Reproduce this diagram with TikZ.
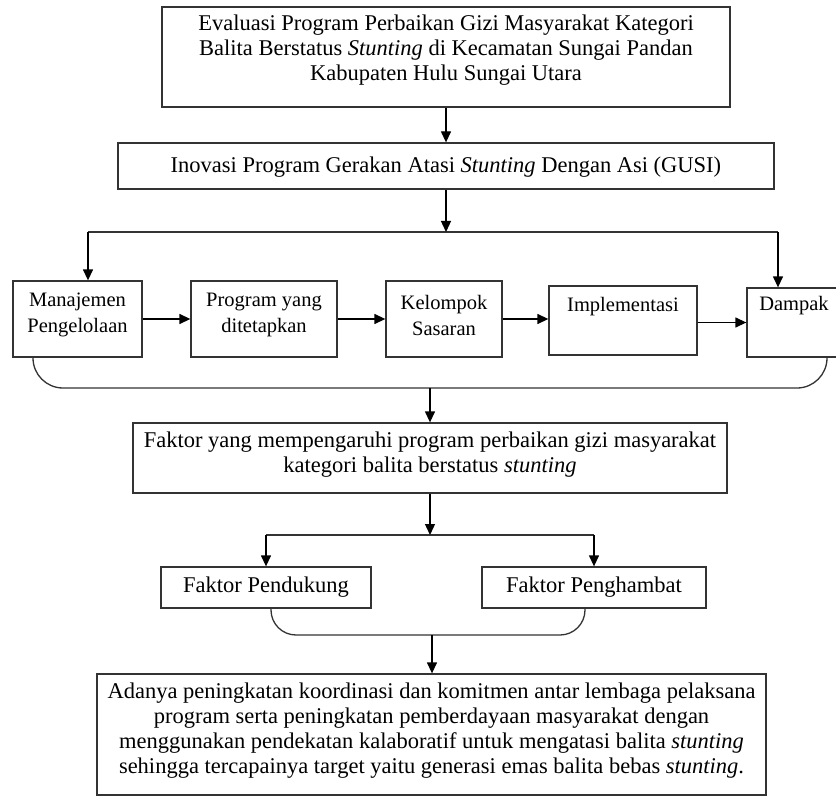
\documentclass[tikz,border=0pt]{standalone}
\usepackage{fontspec}
\setmainfont{Liberation Serif}
\usetikzlibrary{arrows.meta,calc}
\definecolor{linec}{HTML}{333333}
\newcommand\bigf{\fontsize{22.5}{25}\selectfont}
\newcommand\smf{\fontsize{20.5}{26}\selectfont}
\begin{document}
\begin{tikzpicture}[x=1pt,y=-1pt,
  box/.style={draw=linec, line width=1.3pt, inner sep=0pt, fill=white},
  txt/.style={align=center, inner sep=0pt, font=\bigf, text=black},
  stxt/.style={align=center, inner sep=0pt, font=\smf, text=black},
  arr/.style={draw=black, line width=1.3pt, -{Triangle[length=11pt,width=10pt]}},
  ln/.style={draw=linec, line width=1.3pt}]
\useasboundingbox (0,0) rectangle (836,797);
\clip (0,0) rectangle (836,797);
\fill[white] (0,0) rectangle (836,797);

% top boxes
\node[box, minimum width=568pt, minimum height=100pt] (b1) at (446,57) {};
\node[txt] (t1) at (446,50) {Evaluasi Program Perbaikan Gizi Masyarakat Kategori\\Balita Berstatus \emph{Stunting} di Kecamatan Sungai Pandan\\Kabupaten Hulu Sungai Utara};
\node[box, minimum width=656pt, minimum height=46pt] (b2) at (446,166) {};
\node[txt] (t2) at (446,167) {Inovasi Program Gerakan Atasi \emph{Stunting} Dengan Asi (GUSI)};

% row of process boxes
\node[box, minimum width=129pt, minimum height=76pt] (man) at (77.5,319) {};
\node[stxt] (tman) at (77.5,315) {Manajemen\\Pengelolaan};
\node[box, minimum width=146pt, minimum height=76pt] (prog) at (264,319) {};
\node[stxt] (tprog) at (264,315) {Program yang\\ditetapkan};
\node[box, minimum width=116pt, minimum height=76pt] (kel) at (444,319) {};
\node[stxt] (tkel) at (444,315) {Kelompok\\Sasaran};
\node[box, minimum width=148pt, minimum height=69pt] (impl) at (623,320.5) {};
\node[stxt] (timpl) at (623,307) {Implementasi};
\node[box, minimum width=95pt, minimum height=69pt] (damp) at (794.5,322.5) {};
\node[stxt] (tdamp) at (794,306) {Dampak};

% factor boxes
\node[box, minimum width=594pt, minimum height=70pt] (fak) at (430,458) {};
\node[txt] (tfak) at (430,455) {Faktor yang mempengaruhi program perbaikan gizi masyarakat\\kategori balita berstatus \emph{stunting}};
\node[box, minimum width=210pt, minimum height=41pt] (pend) at (266,587.5) {};
\node[txt] (tpend) at (266,587) {Faktor Pendukung};
\node[box, minimum width=224pt, minimum height=41pt] (peng) at (594,587.5) {};
\node[txt] (tpeng) at (594,587) {Faktor Penghambat};

% final box
\node[box, minimum width=669pt, minimum height=121pt] (fin) at (431.5,734.5) {};
\node[txt] (tfin) at (431.5,731) {Adanya peningkatan koordinasi dan komitmen antar lembaga pelaksana\\program serta peningkatan pemberdayaan masyarakat dengan\\menggunakan pendekatan kalaboratif untuk mengatasi balita \emph{stunting}\\sehingga tercapainya target yaitu generasi emas balita bebas \emph{stunting}.};

% junction coordinates
\coordinate (j1) at (446,232);
\coordinate (c1) at (88,232);
\coordinate (c2) at (778,232);
\coordinate (brc) at (430,388);
\coordinate (j2) at (430,535);
\coordinate (c3) at (266,535);
\coordinate (c4) at (594,535);
\coordinate (brc2) at (432,635);

% connectors
\draw[ln] (c1) -- (c2);
\draw[ln] (c3) -- (c4);
\draw[arr] (b1.south) -- (b2.north);
\draw[arr] (b2.south) -- (j1);
\draw[arr] (c1) -- (c1 |- man.north);
\draw[arr] (c2) -- (c2 |- damp.north);
\draw[arr] (man.east) -- (prog.west);
\draw[arr] (prog.east) -- (kel.west);
\draw[arr] (kel.east) -- (kel.east -| impl.west);
\draw[arr] (impl.east |- damp.west) -- (damp.west);
\draw[ln, rounded corners=30pt] ([xshift=-44.5pt]man.south) |- (brc) -| ([xshift=32.5pt]damp.south);
\draw[arr] (brc) -- (fak.north);
\draw[arr] (fak.south) -- (j2);
\draw[arr] (c3) -- (pend.north);
\draw[arr] (c4) -- (peng.north);
\draw[ln, rounded corners=25pt] ([xshift=5pt]pend.south) |- (brc2) -| ([xshift=-9pt]peng.south);
\draw[arr] (brc2) -- (brc2 |- fin.north);
\end{tikzpicture}
\end{document}
